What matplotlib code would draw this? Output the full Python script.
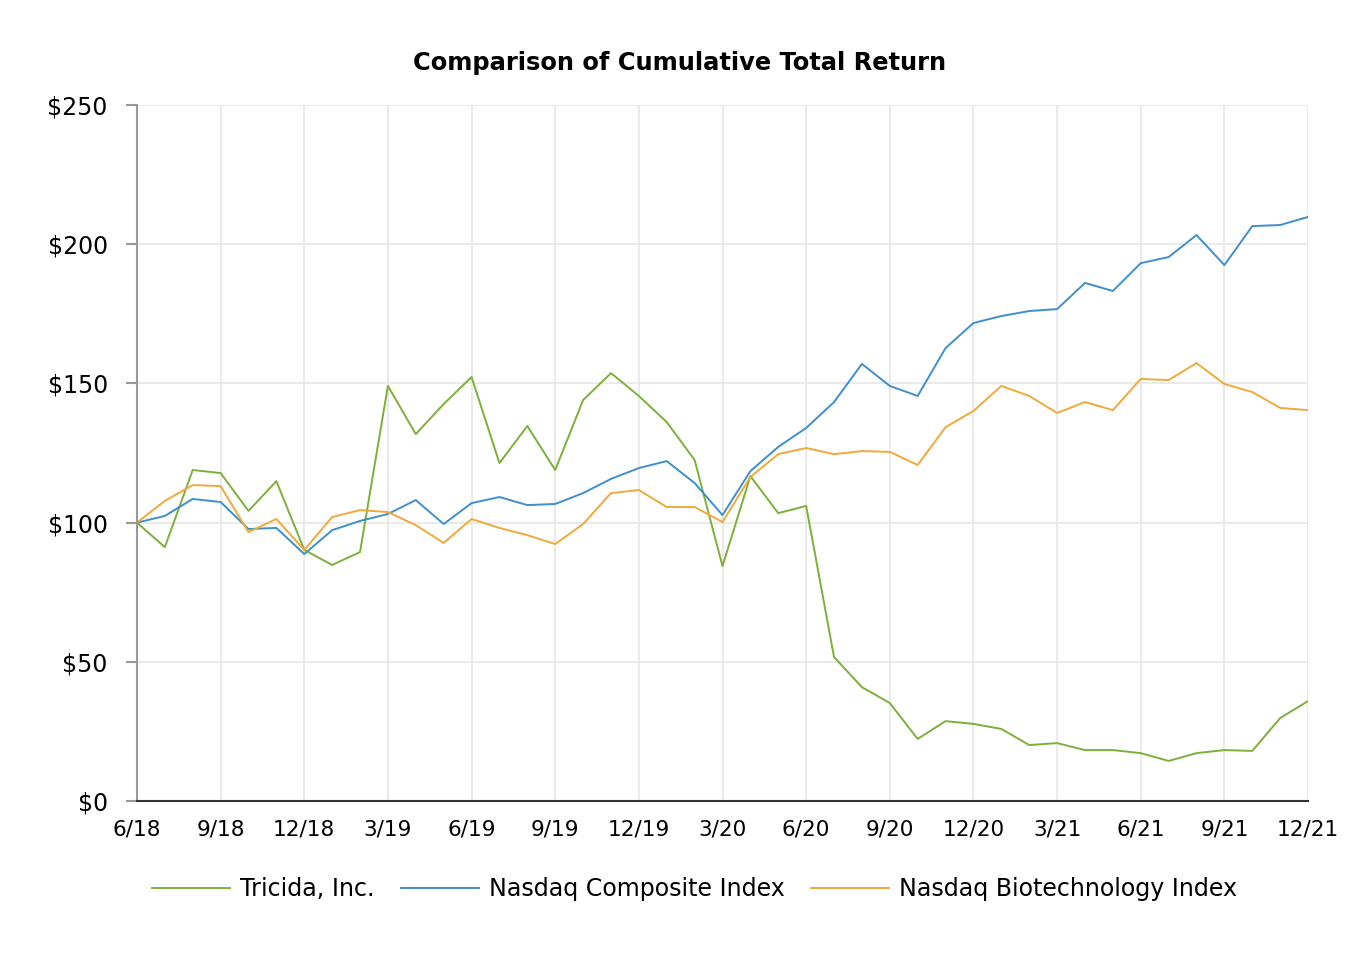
import matplotlib
matplotlib.use("Agg")
import matplotlib.pyplot as plt

# meses desde 6/18 hasta 12/21 (43 puntos mensuales)
months = list(range(43))
tick_pos = list(range(0, 43, 3))
tick_labels = ["6/18", "9/18", "12/18", "3/19", "6/19", "9/19", "12/19", "3/20",
               "6/20", "9/20", "12/20", "3/21", "6/21", "9/21", "12/21"]

tricida = [100.0, 91.2, 118.9, 117.8, 104.2, 114.9, 90.2, 84.8, 89.4, 149.1,
           131.8, 142.6, 152.3, 121.4, 134.7, 118.9, 144.0, 153.7, 145.5, 136.1,
           122.5, 84.4, 116.7, 103.4, 106.0, 51.7, 40.9, 35.2, 22.3, 28.7,
           27.7, 25.9, 20.1, 20.8, 18.3, 18.3, 17.2, 14.4, 17.2, 18.3,
           18.0, 29.8, 35.9]

nasdaq = [100.0, 102.4, 108.5, 107.4, 97.7, 98.1, 88.7, 97.3, 100.6, 103.1,
          108.1, 99.5, 107.0, 109.2, 106.3, 106.7, 110.6, 115.7, 119.6, 122.1,
          114.2, 102.7, 118.5, 127.2, 134.0, 143.3, 157.0, 149.1, 145.5, 162.7,
          171.7, 174.2, 176.0, 176.7, 186.1, 183.2, 193.2, 195.4, 203.3, 192.5,
          206.5, 206.9, 209.8]

biotech = [100.0, 107.8, 113.5, 113.1, 96.6, 101.3, 90.2, 102.0, 104.5, 103.8,
           99.1, 92.7, 101.3, 98.1, 95.5, 92.3, 99.5, 110.6, 111.7, 105.6,
           105.6, 100.2, 116.4, 124.6, 126.8, 124.6, 125.7, 125.4, 120.7, 134.3,
           140.1, 149.1, 145.5, 139.4, 143.3, 140.4, 151.6, 151.2, 157.3, 149.8,
           146.9, 141.2, 140.4]

y_ticks = [0, 50, 100, 150, 200, 250]

fig = plt.figure(figsize=(13.6, 9.6), dpi=100)
ax = fig.add_axes([0.1007, 0.1656, 0.8611, 0.7250])

ax.plot(months, tricida, color="#7cb03b", lw=1.4, label="Tricida, Inc.")
ax.plot(months, nasdaq, color="#3e8fcb", lw=1.4, label="Nasdaq Composite Index")
ax.plot(months, biotech, color="#f0a93a", lw=1.4, label="Nasdaq Biotechnology Index")

ax.set_xlim(0, 42)
ax.set_ylim(0, 250)
ax.set_xticks(tick_pos)
ax.set_xticklabels(tick_labels, fontsize=15.6)
ax.set_yticks(y_ticks)
ax.set_yticklabels(["$%d" % v for v in y_ticks], fontsize=17)

ax.grid(True, color="#e6e6e6", lw=1.2)
ax.set_axisbelow(True)
ax.spines["top"].set_visible(False)
ax.spines["right"].set_visible(False)
ax.spines["left"].set_color("#999999")
ax.spines["left"].set_linewidth(1.5)
ax.spines["bottom"].set_color("#333333")
ax.spines["bottom"].set_linewidth(1.5)
ax.tick_params(axis="y", length=8, color="#999999", width=1.5, pad=13)
ax.tick_params(axis="x", length=0, pad=13)

fig.text(0.5, 0.934, "Comparison of Cumulative Total Return", fontsize=17.4,
         fontweight="bold", ha="center", va="center")

ax.legend(loc="center", bbox_to_anchor=(0.476, -0.127), ncol=3,
          frameon=False, fontsize=17.1, handlelength=3.3, columnspacing=1.1,
          handletextpad=0.42)

fig.savefig("out.png", dpi=100, facecolor="white")
